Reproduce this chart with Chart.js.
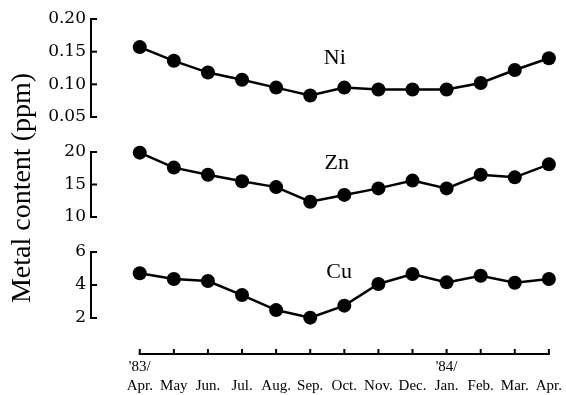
<!DOCTYPE html>
<html>
<head>
<meta charset="utf-8">
<script src="https://cdn.jsdelivr.net/npm/chart.js@4.4.1/dist/chart.umd.min.js"></script>
<style>
  html, body { margin: 0; padding: 0; background: #fff; }
</style>
</head>
<body>
<canvas id="chart" width="566" height="395"></canvas>
<script>
// Data
const months = ['Apr.', 'May', 'Jun.', 'Jul.', 'Aug.', 'Sep.', 'Oct.', 'Nov.', 'Dec.', 'Jan.', 'Feb.', 'Mar.', 'Apr.'];
const years = ["'83/", '', '', '', '', '', '', '', '', "'84/", '', '', ''];
const niValues = [0.157, 0.136, 0.118, 0.107, 0.095, 0.083, 0.095, 0.092, 0.092, 0.092, 0.102, 0.122, 0.140];
const znValues = [19.9, 17.6, 16.5, 15.5, 14.6, 12.35, 13.4, 14.4, 15.6, 14.4, 16.5, 16.1, 18.1];
const cuValues = [4.71, 4.36, 4.24, 3.39, 2.48, 2.02, 2.75, 4.06, 4.67, 4.16, 4.56, 4.14, 4.36];
const niTicks = [0.05, 0.10, 0.15, 0.20];
const znTicks = [10, 15, 20];
const cuTicks = [2, 4, 6];
const metalNames = ['Ni', 'Zn', 'Cu'];
const titleText = 'Metal content (ppm)';

// Where the metal names sit (in axis units)
const nameSpots = [
    { axis: 'yNi', x: 5.72, y: 0.140 },
    { axis: 'yZn', x: 5.78, y: 18.3 },
    { axis: 'yCu', x: 5.85, y: 4.79 }
];

const AXIS_W = 91;
const serif = '"Liberation Serif", "Times New Roman", serif';

// One bracket-style axis per metal, all stacked on the left
function metalAxis(ticks, weight, stackWeight, digits) {
    return {
        type: 'linear',
        position: 'left',
        stack: 'metal',
        stackWeight: stackWeight,
        weight: weight,
        min: ticks[0],
        max: ticks[ticks.length - 1],
        afterBuildTicks: s => { s.ticks = ticks.map(v => ({ value: v })); },
        afterFit: s => { s.width = AXIS_W; },
        grid: { display: true, drawOnChartArea: false, drawTicks: false },
        border: { display: true, color: '#000', width: 2 },
        ticks: {
            color: '#000',
            padding: 5,
            autoSkip: false,
            font: { family: '"DejaVu Serif", serif', size: 17 },
            callback: v => Number(v).toFixed(digits)
        }
    };
}

// Empty spacer between the brackets
function gapAxis(weight, stackWeight) {
    return {
        type: 'linear',
        position: 'left',
        stack: 'metal',
        stackWeight: stackWeight,
        weight: weight,
        afterFit: s => { s.width = AXIS_W; },
        grid: { display: false },
        border: { display: false },
        ticks: { display: false }
    };
}

function toPoints(values) {
    return values.map((v, i) => ({ x: i, y: v }));
}

function series(label, values, axisId) {
    return {
        label: label,
        data: toPoints(values),
        yAxisID: axisId,
        xAxisID: 'x',
        borderColor: '#000',
        borderWidth: 2.5,
        backgroundColor: '#000',
        pointBackgroundColor: '#000',
        pointBorderWidth: 0,
        pointRadius: 7,
        tension: 0,
        clip: false
    };
}

// Inward ticks, the short time axis, the rotated title and the metal names
const decorations = {
    id: 'decorations',
    afterDraw(chart) {
        const ctx = chart.ctx;
        ctx.save();
        ctx.strokeStyle = '#000';
        ctx.lineWidth = 2;

        ['yNi', 'yZn', 'yCu'].forEach(id => {
            const s = chart.scales[id];
            s.ticks.forEach(t => {
                const y = s.getPixelForValue(t.value);
                ctx.beginPath();
                ctx.moveTo(s.right, y);
                ctx.lineTo(s.right + 6, y);
                ctx.stroke();
            });
        });

        const xs = chart.scales.x;
        const y0 = chart.chartArea.bottom;
        ctx.beginPath();
        ctx.moveTo(xs.getPixelForValue(0) - 1, y0);
        ctx.lineTo(xs.getPixelForValue(months.length - 1) + 1, y0);
        ctx.stroke();
        months.forEach((m, i) => {
            const px = xs.getPixelForValue(i);
            ctx.beginPath();
            ctx.moveTo(px, y0);
            ctx.lineTo(px, y0 - 5);
            ctx.stroke();
        });

        ctx.fillStyle = '#000';
        ctx.textAlign = 'center';
        ctx.textBaseline = 'middle';
        ctx.font = '22px ' + serif;
        nameSpots.forEach((spot, i) => {
            ctx.fillText(metalNames[i], xs.getPixelForValue(spot.x), chart.scales[spot.axis].getPixelForValue(spot.y));
        });

        ctx.font = '28px ' + serif;
        ctx.textBaseline = 'alphabetic';
        ctx.translate(30, 188);
        ctx.rotate(-Math.PI / 2);
        ctx.fillText(titleText, 0, 0);
        ctx.restore();
    }
};

new Chart(document.getElementById('chart'), {
    type: 'line',
    data: {
        datasets: [
            series('Ni', niValues, 'yNi'),
            series('Zn', znValues, 'yZn'),
            series('Cu', cuValues, 'yCu')
        ]
    },
    options: {
        responsive: false,
        animation: false,
        devicePixelRatio: 1,
        events: [],
        layout: { padding: { top: 19, right: 16, bottom: 0, left: 0 } },
        plugins: { legend: { display: false }, tooltip: { enabled: false } },
        scales: {
            x: {
                type: 'linear',
                position: 'bottom',
                min: -1.43,
                max: months.length - 1,
                afterBuildTicks: s => { s.ticks = months.map((m, i) => ({ value: i })); },
                afterFit: s => { s.height = 41; },
                grid: { display: true, drawOnChartArea: false, drawTicks: false },
                border: { display: false },
                ticks: {
                    color: '#000',
                    padding: 4,
                    autoSkip: false,
                    maxRotation: 0,
                    font: { family: serif, size: 15, lineHeight: '19px' },
                    callback: v => [years[v] || '', months[v]]
                }
            },
            yNi: metalAxis(niTicks, 6, 98, 2),
            g1: gapAxis(5, 35),
            yZn: metalAxis(znTicks, 4, 65, 0),
            g2: gapAxis(3, 35),
            yCu: metalAxis(cuTicks, 2, 66, 0),
            g3: gapAxis(1, 36)
        }
    },
    plugins: [decorations]
});
</script>
</body>
</html>
